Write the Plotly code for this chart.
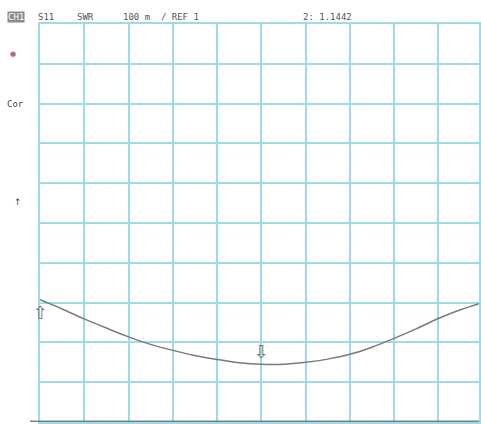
import plotly.graph_objects as go

# sweep position in divisions (0..10) and measured SWR
freq_div = [0, 0.5, 1, 1.5, 2, 2.5, 3, 3.5, 4, 4.5, 5, 5.5, 6, 6.5, 7, 7.5, 8, 8.5, 9, 9.5, 10]
swr = [1.307, 1.284, 1.259, 1.236, 1.214, 1.195, 1.180, 1.167, 1.157, 1.149, 1.145, 1.145,
       1.150, 1.158, 1.170, 1.188, 1.210, 1.234, 1.260, 1.282, 1.300]

# marker positions (index into the sweep) and glyph
marker_idx = [0, 10, 20]
marker_glyph = ["⇧", "⇩", "⇧"]

header = ["CH1", "S11", "SWR", "100 m  / REF 1", "2: 1.1442"]
header_x = [7, 37, 76, 122, 303]

grid = "#9fdbe6"

W, H = 481, 424
L, R, T, B = 40, 0, 24, 2


def px(x, y):
    # pixel position in the window -> paper coords of the plot area
    return (x - L) / (W - L - R), (H - B - y) / (H - T - B)


fig = go.Figure()
fig.add_trace(go.Scatter(x=freq_div, y=swr, mode="lines", line_shape="spline",
                         line=dict(color="#7a7a7a", width=1.5), hoverinfo="skip"))

# reference line at REF 1
fig.add_shape(type="line", xref="paper", yref="y", x0=px(30, 0)[0], x1=1, y0=1.0, y1=1.0,
              line=dict(color="#808080", width=3))

for i, g in zip(marker_idx, marker_glyph):
    fig.add_annotation(x=freq_div[i], y=swr[i], text=g, showarrow=False,
                       yanchor="top" if g == "⇧" else "bottom",
                       font=dict(size=18, color="#707070", family="DejaVu Sans"))

for t, x in zip(header, header_x):
    ax, ay = px(x, 17)
    fig.add_annotation(x=ax, y=ay, xref="paper", yref="paper", text=t, showarrow=False,
                       xanchor="left", yanchor="middle", borderpad=0,
                       font=dict(size=9, color="white" if t == "CH1" else "#555",
                                 family="DejaVu Sans Mono"),
                       bgcolor="#8a8a8a" if t == "CH1" else None)

# side labels
ax, ay = px(5, 97)
fig.add_annotation(x=ax, y=ay, xref="paper", yref="paper", text="Cor", showarrow=False,
                   xanchor="left", font=dict(size=9, color="#444", family="DejaVu Sans Mono"))
ax, ay = px(12, 202)
fig.add_annotation(x=ax, y=ay, xref="paper", yref="paper", text="↑", showarrow=False,
                   font=dict(size=9, color="#444", family="DejaVu Sans"))
ax, ay = px(8, 48)
fig.add_annotation(x=ax, y=ay, xref="paper", yref="paper", text="●", showarrow=False,
                   font=dict(size=7, color="#b06a86", family="DejaVu Sans"))

fig.update_layout(
    width=W, height=H,
    margin=dict(l=L, r=R, t=T, b=B),
    paper_bgcolor="white", plot_bgcolor="white",
    showlegend=False,
    xaxis=dict(range=[0, 9.92], dtick=1, tick0=0, showgrid=True, gridcolor=grid, gridwidth=1.5,
               showticklabels=False, zeroline=False, showline=True, linecolor=grid, linewidth=1.5,
               mirror=True, ticks=""),
    yaxis=dict(range=[1.0, 2.0], dtick=0.1, tick0=1.0, showgrid=True, gridcolor=grid, gridwidth=1.5,
               showticklabels=False, zeroline=False, showline=True, linecolor=grid, linewidth=1.5,
               mirror=True, ticks=""),
)

fig.write_html("out.html", config={"displayModeBar": False},
               post_script="document.body.style.margin='0';document.body.style.overflow='hidden';")
